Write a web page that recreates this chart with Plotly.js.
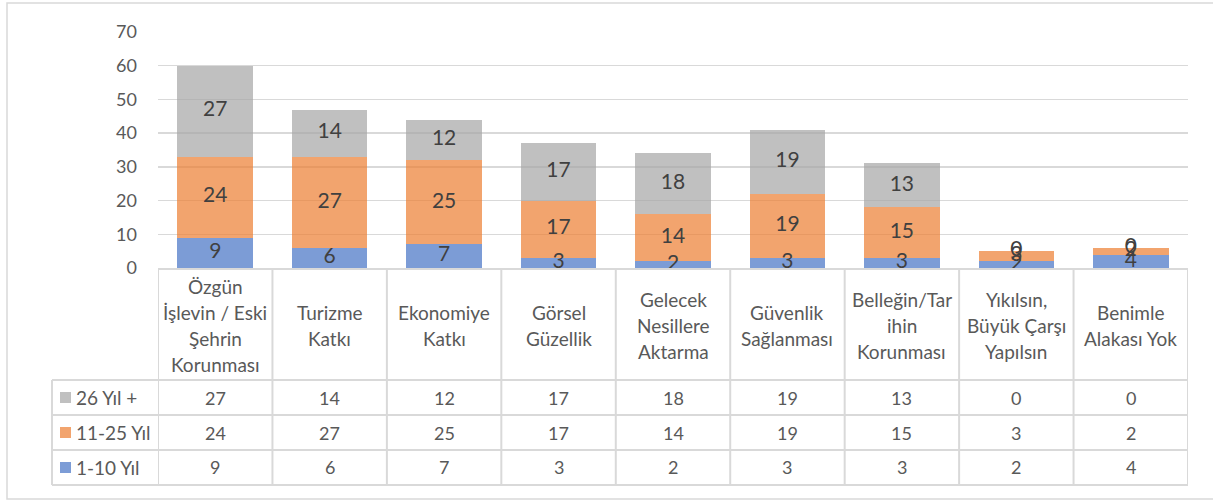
<!DOCTYPE html>
<html>
<head>
<meta charset="utf-8">
<script src="https://cdn.plot.ly/plotly-3.0.1.min.js"></script>
<style>html,body{margin:0;padding:0;background:#fff;}#chart{width:1213px;height:500px;}</style>
</head>
<body>
<div id="chart"></div>
<script>
// ---- data ----
var categories = [
  "Özgün<br>İşlevin / Eski<br>Şehrin<br>Korunması",
  "Turizme<br>Katkı",
  "Ekonomiye<br>Katkı",
  "Görsel<br>Güzellik",
  "Gelecek<br>Nesillere<br>Aktarma",
  "Güvenlik<br>Sağlanması",
  "Belleğin/Tar<br>ihin<br>Korunması",
  "Yıkılsın,<br>Büyük Çarşı<br>Yapılsın",
  "Benimle<br>Alakası Yok"
];
var seriesNames = ["1-10 Yıl", "11-25 Yıl", "26 Yıl +"];
var years1to10 = [9, 6, 7, 3, 2, 3, 3, 2, 4];
var years11to25 = [24, 27, 25, 17, 14, 19, 15, 3, 2];
var years26plus = [27, 14, 12, 17, 18, 19, 13, 0, 0];
var yTicks = [0, 10, 20, 30, 40, 50, 60, 70];

var seriesValues = [years1to10, years11to25, years26plus];
var colors = ["rgba(68,114,196,0.7)", "rgba(237,125,49,0.7)", "rgba(165,165,165,0.7)"];
var idx = categories.map(function(_, i){ return i; });

// ---- geometry (pixels) ----
var W = 1213, H = 500;
var PL = 158, PR = 1188, PT = 32, PB = 268;
function px2py(py){ return (PB - py) / (PB - PT); }
function px2px(px){ return (px - PL) / (PR - PL); }

var font = "Lato, 'Open Sans', sans-serif";
var textCol = "#595959";
var lineCol = "#D9D9D9";

var traces = [];
for (var s = 0; s < 3; s++) {
  traces.push({
    type: "bar", x: idx, y: seriesValues[s], name: seriesNames[s],
    marker: {color: colors[s], line: {width: 0}},
    hoverinfo: "skip"
  });
}
// data labels at segment midpoints
var base = idx.map(function(){ return 0; });
for (var s = 0; s < 3; s++) {
  var ys = [], tx = [];
  for (var i = 0; i < idx.length; i++) {
    var v = seriesValues[s][i];
    ys.push(base[i] + v / 2);
    tx.push(String(v));
    base[i] += v;
  }
  traces.push({
    type: "scatter", mode: "text", x: idx, y: ys, text: tx,
    textposition: "middle center",
    textfont: {family: font, size: 21, color: "#404040"},
    hoverinfo: "skip", cliponaxis: false
  });
}

var shapes = [];
var annotations = [];
// outer border
shapes.push({type: "rect", xref: "paper", yref: "paper",
  x0: px2px(7), x1: px2px(1216), y0: px2py(3), y1: px2py(499),
  line: {color: lineCol, width: 1.5}});

// table
var rowLines = [380, 415, 450, 485];
var headerTop = 269;
shapes.push({type: "line", xref: "paper", yref: "paper",
  x0: 0, x1: 1, y0: px2py(headerTop), y1: px2py(headerTop), line: {color: lineCol, width: 2}});
rowLines.forEach(function(py){
  shapes.push({type: "line", xref: "paper", yref: "paper",
    x0: px2px(52), x1: 1, y0: px2py(py), y1: px2py(py), line: {color: lineCol, width: 2}});
});
for (var i = 0; i <= idx.length; i++) {
  shapes.push({type: "line", xref: "x", yref: "paper",
    x0: i - 0.5, x1: i - 0.5, y0: px2py(headerTop), y1: px2py(485), line: {color: lineCol, width: 2}});
}
shapes.push({type: "line", xref: "paper", yref: "paper",
  x0: px2px(52), x1: px2px(52), y0: px2py(380), y1: px2py(485), line: {color: lineCol, width: 2}});

// header labels (line by line)
var headerMid = (headerTop + 380) / 2 + 1;
var lineH = 26;
categories.forEach(function(c, i){
  var lines = c.split("<br>");
  var n = lines.length;
  lines.forEach(function(l, k){
    var py = headerMid + (k - (n - 1) / 2) * lineH;
    annotations.push({xref: "x", yref: "paper", x: i, y: px2py(py), text: l,
      showarrow: false, xanchor: "center", yanchor: "middle",
      font: {family: font, size: 19, color: textCol}});
  });
});

// rows: top to bottom 26+, 11-25, 1-10
var rowOrder = [2, 1, 0];
rowOrder.forEach(function(s, r){
  var py = (rowLines[r] + rowLines[r + 1]) / 2;
  seriesValues[s].forEach(function(v, i){
    annotations.push({xref: "x", yref: "paper", x: i, y: px2py(py), text: String(v),
      showarrow: false, xanchor: "center", yanchor: "middle",
      font: {family: font, size: 18, color: textCol}});
  });
  // legend key
  shapes.push({type: "rect", xref: "paper", yref: "paper",
    x0: px2px(60), x1: px2px(71), y0: px2py(py - 5.5), y1: px2py(py + 5.5),
    fillcolor: colors[s], line: {width: 0}});
  annotations.push({xref: "paper", yref: "paper", x: px2px(74), y: px2py(py), text: seriesNames[s],
    showarrow: false, xanchor: "left", yanchor: "middle",
    font: {family: font, size: 19, color: textCol}});
});

var layout = {
  width: W, height: H,
  margin: {l: PL, r: W - PR, t: PT, b: H - PB, pad: 0},
  paper_bgcolor: "#fff", plot_bgcolor: "#fff",
  barmode: "stack", bargap: 0.34,
  showlegend: false, hovermode: false,
  font: {family: font, color: textCol},
  xaxis: {range: [-0.5, idx.length - 0.5], showticklabels: false, showgrid: false,
    zeroline: false, showline: false, ticks: "", fixedrange: true},
  yaxis: {range: [0, 70], tickvals: yTicks, ticktext: yTicks.map(String),
    showgrid: true, gridcolor: lineCol, gridwidth: 1.5, zeroline: false, showline: false,
    ticks: "", ticklabelstandoff: 20, tickfont: {family: font, size: 18, color: textCol}, fixedrange: true},
  shapes: shapes,
  annotations: annotations
};

Plotly.newPlot("chart", traces, layout, {displayModeBar: false, staticPlot: true});
</script>
</body>
</html>
